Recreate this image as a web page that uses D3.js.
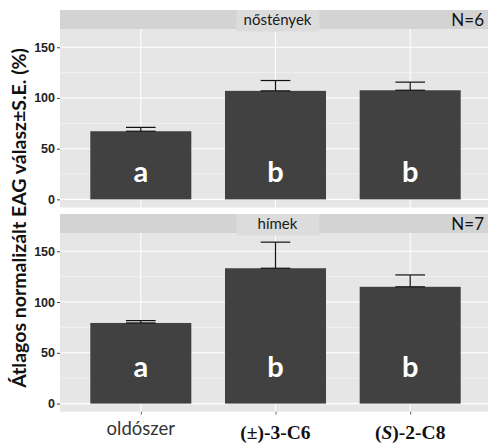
<!DOCTYPE html>
<html>
<head>
<meta charset="utf-8">
<script src="https://cdn.jsdelivr.net/npm/d3@7"></script>
<style>
  body { margin: 0; background: #fff; }
  svg { display: block; }
</style>
</head>
<body>
<div id="chart"></div>
<script>
// data
const categories = ["oldószer", "(±)-3-C6", "(S)-2-C8"]
const panels = ["nőstények", "hímek"]
const panelN = ["N=6", "N=7"]
const femaleMeans = [67.2, 107, 107.6]
const femaleSE = [3.8, 10.2, 8.0]
const maleMeans = [79.4, 133.3, 115]
const maleSE = [2.3, 25.7, 11.7]
const letters = ["a", "b", "b"]
const yTicks = [0, 50, 100, 150]
const yMinor = [25, 75, 125]

const means = [femaleMeans, maleMeans]
const ses = [femaleSE, maleSE]

const width = 488, height = 447
const svg = d3.select("#chart").append("svg")
  .attr("width", width).attr("height", height)

// layout of the two facets
const left = 60, right = 491
const facets = [
  {stripTop: 10, stripBottom: 29, panelBottom: 207.5, letterAt: 17},
  {stripTop: 214, stripBottom: 233, panelBottom: 411.7, letterAt: 26}
]

const x = d3.scalePoint().domain(categories).range([left, right]).padding(0.6)
const step = x.step()
const barW = step * 0.75
const capW = step * 0.22

facets.forEach((f, p) => {
  const y = d3.scaleLinear().domain([-8, 168]).range([f.panelBottom, f.stripBottom])
  const g = svg.append("g")

  // panel background
  g.append("rect").attr("x", left).attr("y", f.stripBottom)
    .attr("width", right - left).attr("height", f.panelBottom - f.stripBottom)
    .attr("fill", "#e6e6e6")

  // grid
  g.selectAll(".minor").data(yMinor).enter().append("line")
    .attr("x1", left).attr("x2", right)
    .attr("y1", d => y(d)).attr("y2", d => y(d))
    .attr("stroke", "#f3f3f3").attr("stroke-width", 0.8)
  g.selectAll(".major").data(yTicks).enter().append("line")
    .attr("x1", left).attr("x2", right)
    .attr("y1", d => y(d)).attr("y2", d => y(d))
    .attr("stroke", "#fff").attr("stroke-width", 1.1)
  g.selectAll(".vgrid").data(categories).enter().append("line")
    .attr("x1", d => x(d)).attr("x2", d => x(d))
    .attr("y1", f.stripBottom).attr("y2", f.panelBottom)
    .attr("stroke", "#fff").attr("stroke-width", 1.1)

  // strip
  g.append("rect").attr("x", left).attr("y", f.stripTop)
    .attr("width", right - left).attr("height", f.stripBottom - f.stripTop)
    .attr("fill", "#d3d3d3")
  const mid = (x(categories[1]))
  g.append("rect").attr("x", mid - 39).attr("y", f.stripTop)
    .attr("width", 83).attr("height", f.stripBottom - f.stripTop + 2.5)
    .attr("fill", "#dcdcdc")
  g.append("text").attr("x", mid + 2).attr("y", f.stripBottom - 4.5)
    .attr("text-anchor", "middle")
    .style("font-family", "Lato, sans-serif").style("font-size", "15px")
    .attr("fill", "#1a1a1a").text(panels[p])
  g.append("text").attr("x", 484).attr("y", f.stripBottom - 3)
    .attr("text-anchor", "end")
    .style("font-family", "Lato, sans-serif").style("font-size", "17px")
    .attr("fill", "#111").text(panelN[p])

  const rows = categories.map((c, i) => ({c: c, m: means[p][i], se: ses[p][i], l: letters[i]}))

  // bars
  g.selectAll(".bar").data(rows).enter().append("rect")
    .attr("x", d => x(d.c) - barW / 2).attr("width", barW)
    .attr("y", d => y(d.m)).attr("height", d => y(0) - y(d.m))
    .attr("fill", "#414141")

  // error bars (upper + caps)
  const eb = g.selectAll(".eb").data(rows).enter().append("g")
    .attr("stroke", "#111").attr("stroke-width", 1.2)
  eb.append("line").attr("x1", d => x(d.c)).attr("x2", d => x(d.c))
    .attr("y1", d => y(d.m)).attr("y2", d => y(d.m + d.se))
  eb.append("line").attr("x1", d => x(d.c) - capW / 2).attr("x2", d => x(d.c) + capW / 2)
    .attr("y1", d => y(d.m + d.se)).attr("y2", d => y(d.m + d.se))
  eb.append("line").attr("x1", d => x(d.c) - capW / 2).attr("x2", d => x(d.c) + capW / 2)
    .attr("y1", d => y(d.m)).attr("y2", d => y(d.m))

  // letters
  g.selectAll(".letter").data(rows).enter().append("text")
    .attr("x", d => x(d.c)).attr("y", y(f.letterAt))
    .attr("text-anchor", "middle")
    .style("font-family", "Lato, sans-serif").style("font-weight", "bold").style("font-size", "29px")
    .attr("fill", "#fff").text(d => d.l)

  // y axis
  const ax = g.append("g").attr("transform", "translate(" + left + ",0)")
    .call(d3.axisLeft(y).tickValues(yTicks).tickSize(3).tickPadding(2))
  ax.select(".domain").remove()
  ax.selectAll(".tick line").attr("stroke", "#444")
  ax.selectAll(".tick text")
    .style("font-family", "'Liberation Sans', Arial, sans-serif")
    .style("font-weight", "bold").style("font-size", "12.5px").attr("fill", "#222")
})

// x axis under the lower panel
const bottom = facets[1].panelBottom
const xa = svg.append("g").attr("transform", "translate(0," + bottom + ")")
  .call(d3.axisBottom(x).tickSize(3).tickFormat(""))
xa.select(".domain").remove()
xa.selectAll(".tick line").attr("stroke", "#666")

svg.append("text").attr("x", x(categories[0])).attr("y", 435)
  .attr("text-anchor", "middle")
  .style("font-family", "Lato, sans-serif").style("font-size", "18.5px")
  .attr("fill", "#333").text(categories[0])
svg.append("text").attr("x", x(categories[1])).attr("y", 439)
  .attr("text-anchor", "middle")
  .style("font-family", "'Liberation Serif', serif").style("font-weight", "bold").style("font-size", "19.5px")
  .attr("fill", "#111").text(categories[1])
const lab3 = svg.append("text").attr("x", x(categories[2])).attr("y", 439)
  .attr("text-anchor", "middle")
  .style("font-family", "'Liberation Serif', serif").style("font-weight", "bold").style("font-size", "19.5px")
  .attr("fill", "#111")
lab3.append("tspan").text("(")
lab3.append("tspan").attr("font-style", "italic").style("font-style", "italic").text("S")
lab3.append("tspan").text(")-2-C8")

// y title
svg.append("text")
  .attr("transform", "translate(26,218) rotate(-90)")
  .attr("text-anchor", "middle")
  .style("font-family", "Lato, sans-serif").style("font-weight", "bold").style("font-size", "19.5px")
  .attr("fill", "#111")
  .text("Átlagos normalizált EAG válasz±S.E. (%)")
</script>
</body>
</html>
